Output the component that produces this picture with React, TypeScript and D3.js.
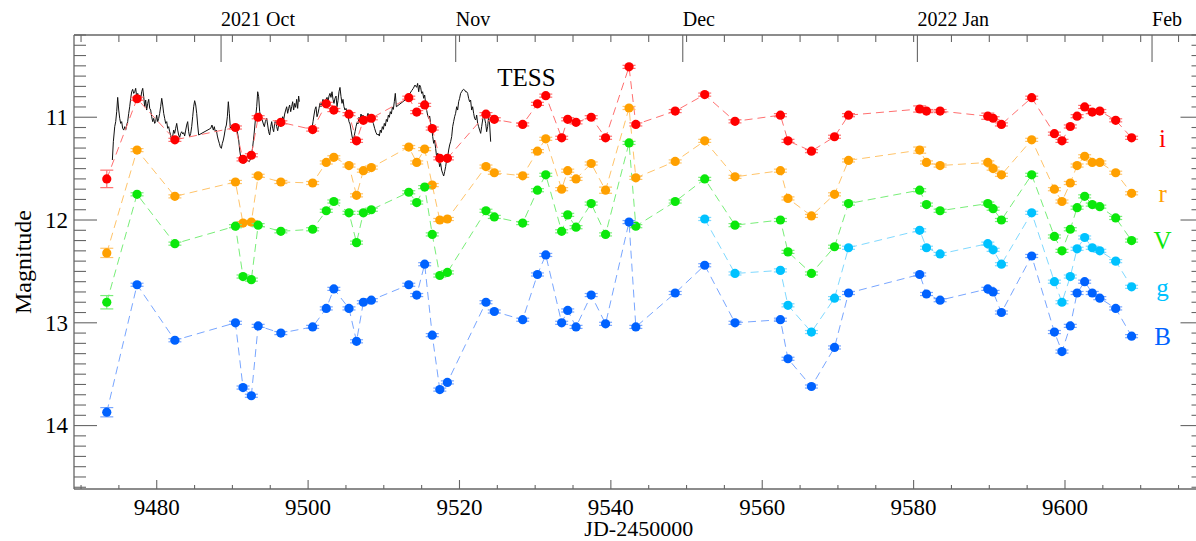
import React from 'react';
import * as d3 from 'd3';

// Nights of ground-based photometry (JD-2450000)
const nightJD = [
  9473.4, 9477.4, 9482.4, 9490.4, 9491.4, 9492.5, 9493.4, 9496.4, 9500.6, 9502.4,
  9503.4, 9505.4, 9506.4, 9507.3, 9508.35, 9513.3, 9514.35, 9515.4, 9516.4, 9517.4,
  9518.4, 9523.5, 9524.6, 9528.35, 9530.3, 9531.4, 9533.5, 9534.3, 9535.4, 9537.4,
  9539.3, 9542.4, 9543.3, 9548.5, 9552.4, 9556.4, 9562.4, 9563.4, 9566.5, 9569.55,
  9571.4, 9580.8, 9581.7, 9583.5, 9589.8, 9590.5, 9591.6, 9595.6, 9598.6, 9599.6,
  9600.7, 9601.6, 9602.6, 9603.6, 9604.6, 9606.7, 9608.8,
];

const magI = [
  11.60, 10.82, 11.22, 11.10, 11.41, 11.37, 11.00, 11.05, 11.12, 10.87,
  10.93, 10.97, 11.23, 11.03, 11.01, 10.81, 10.95, 10.88, 11.11, 11.40,
  11.40, 10.97, 11.02, 11.07, 10.87, 10.79, 11.20, 11.02, 11.05, 11.00,
  11.20, 10.51, 11.07, 10.94, 10.78, 11.04, 10.98, 11.23, 11.33, 11.19,
  10.98, 10.92, 10.94, 10.94, 10.99, 11.01, 11.07, 10.81, 11.16, 11.23,
  11.09, 10.99, 10.90, 10.95, 10.94, 11.03, 11.20,
];

const magR = [
  12.32, 11.32, 11.77, 11.63, 12.03, 12.02, 11.57, 11.63, 11.64, 11.44,
  11.39, 11.47, 11.76, 11.52, 11.49, 11.29, 11.44, 11.31, 11.66, 12.00,
  11.99, 11.48, 11.54, 11.57, 11.33, 11.21, 11.70, 11.52, 11.60, 11.45,
  11.71, 10.91, 11.59, 11.43, 11.23, 11.58, 11.52, 11.79, 11.96, 11.75,
  11.42, 11.32, 11.44, 11.47, 11.44, 11.50, 11.56, 11.22, 11.70, 11.82,
  11.64, 11.47, 11.38, 11.44, 11.44, 11.54, 11.74,
];

const magV = [
  12.80, 11.75, 12.23, 12.06, 12.55, 12.58, 12.05, 12.11, 12.09, 11.91,
  11.82, 11.93, 12.22, 11.93, 11.90, 11.73, 11.83, 11.68, 12.14, 12.54,
  12.51, 11.91, 11.97, 12.03, 11.71, 11.56, 12.11, 11.95, 12.07, 11.84,
  12.14, 11.25, 12.06, 11.82, 11.60, 12.05, 12.00, 12.31, 12.52, 12.26,
  11.84, 11.71, 11.85, 11.91, 11.84, 11.89, 12.00, 11.56, 12.16, 12.30,
  12.09, 11.88, 11.77, 11.85, 11.87, 11.98, 12.20,
];

// g starts with the 35th night
const gFirstNight = 34;
const magG = [
  11.99, 12.52, 12.49, 12.83, 13.09, 12.76, 12.27, 12.10, 12.27, 12.33,
  12.23, 12.29, 12.43, 11.93, 12.60, 12.80, 12.55, 12.28, 12.17, 12.27,
  12.30, 12.40, 12.65,
];

const magB = [
  13.87, 12.63, 13.17, 13.00, 13.63, 13.71, 13.03, 13.10, 13.04, 12.86,
  12.67, 12.86, 13.18, 12.80, 12.78, 12.63, 12.73, 12.43, 13.12, 13.65,
  13.58, 12.80, 12.89, 12.97, 12.53, 12.34, 13.00, 12.88, 13.04, 12.73,
  13.01, 12.02, 13.04, 12.71, 12.44, 13.00, 12.97, 13.35, 13.62, 13.24,
  12.71, 12.53, 12.72, 12.78, 12.67, 12.70, 12.90, 12.35, 13.09, 13.28,
  13.03, 12.71, 12.60, 12.71, 12.76, 12.86, 13.13,
];

// Photometric uncertainties: a typical value and the larger ones
const typicalErr = 0.015;
const largeErrors: [string, number, number][] = [
  ['i', 9473.4, 0.085],
  ['r', 9473.4, 0.045],
  ['V', 9473.4, 0.065],
  ['B', 9473.4, 0.045],
  ['i', 9580.8, 0.03],
  ['i', 9589.8, 0.03],
  ['r', 9539.3, 0.03],
  ['r', 9580.8, 0.03],
];

const bandNames = ['i', 'r', 'V', 'g', 'B'];
const bandDotColors = ['#ff0000', '#ffa000', '#0be80b', '#00c2ff', '#0062ff'];
const bandLineColors = ['#ff6f6f', '#ffc46a', '#78ee78', '#7fd9ff', '#78a6ff'];

// TESS light curve, scaled to magnitudes: [JD-2450000, mag]
const tessSegment1: [number, number][] = [
  [9474.14, 11.416], [9474.27, 11.238], [9474.45, 11.092], [9474.58, 11.043], [9474.71, 10.946],
  [9474.84, 10.807], [9474.98, 10.930], [9475.11, 11.011], [9475.24, 11.060], [9475.37, 11.043],
  [9475.50, 11.108], [9475.64, 11.125], [9475.77, 11.092], [9475.90, 11.125], [9476.03, 11.076],
  [9476.16, 11.043], [9476.30, 10.962], [9476.43, 10.898], [9476.56, 10.816], [9476.69, 10.752],
  [9476.82, 10.729], [9476.96, 10.768], [9477.09, 10.752], [9477.22, 10.719], [9477.35, 10.800],
  [9477.49, 10.768], [9477.62, 10.833], [9477.75, 10.784], [9477.88, 10.826], [9478.01, 10.752],
  [9478.15, 10.719], [9478.28, 10.800], [9478.41, 10.898], [9478.54, 10.833], [9478.67, 10.930],
  [9478.81, 10.865], [9478.94, 10.826], [9479.07, 10.914], [9479.20, 10.930], [9479.33, 10.995],
  [9479.47, 11.043], [9479.60, 11.011], [9479.73, 11.060], [9479.86, 11.043], [9479.99, 10.979],
  [9480.13, 11.043], [9480.26, 11.011], [9480.39, 10.962], [9480.52, 10.898], [9480.66, 10.816],
  [9480.79, 10.881], [9480.92, 10.962], [9481.05, 11.011], [9481.18, 11.060], [9481.32, 11.043],
  [9481.45, 11.108], [9481.58, 11.092], [9481.71, 11.141], [9481.84, 11.173], [9481.98, 11.238],
  [9482.11, 11.183], [9482.24, 11.125], [9482.37, 11.157], [9482.50, 11.108], [9482.64, 11.060],
  [9482.77, 11.125], [9482.90, 11.173], [9483.03, 11.196], [9483.17, 11.157], [9483.30, 11.141],
  [9483.43, 11.163], [9483.56, 11.150], [9483.69, 11.183], [9483.83, 11.125], [9483.96, 11.076],
  [9484.09, 11.043], [9484.22, 11.141], [9484.35, 11.189], [9484.49, 11.157], [9484.62, 11.092],
  [9484.75, 10.995], [9484.88, 10.898], [9485.01, 10.839], [9485.15, 10.881], [9485.28, 10.962],
  [9485.41, 11.076], [9485.54, 11.173],
  [9487.13, 11.108], [9487.30, 11.076], [9487.48, 11.125], [9487.61, 11.092], [9487.74, 11.141],
  [9487.88, 11.125], [9488.01, 11.183], [9488.14, 11.222], [9488.27, 11.254], [9488.41, 11.293],
  [9488.54, 11.303], [9488.67, 11.254], [9488.80, 11.222], [9488.93, 11.173], [9489.07, 11.108],
  [9489.20, 11.076], [9489.33, 10.995], [9489.46, 10.849], [9489.59, 10.962], [9489.73, 11.108],
  [9489.86, 11.076], [9490.03, 11.125], [9490.21, 11.092], [9490.43, 11.108], [9490.65, 11.141],
  [9490.83, 11.222], [9490.96, 11.319], [9491.09, 11.384], [9491.22, 11.416], [9491.53, 11.449],
  [9491.88, 11.416], [9492.24, 11.432], [9492.50, 11.384], [9492.68, 11.287], [9492.85, 11.173],
  [9493.03, 11.027], [9493.21, 10.898], [9493.34, 10.752], [9493.47, 10.800], [9493.60, 10.946],
  [9493.73, 10.995], [9493.91, 11.021], [9494.09, 11.066], [9494.22, 11.092], [9494.35, 11.043],
  [9494.53, 11.011], [9494.66, 11.076], [9494.79, 11.141], [9494.92, 11.173], [9495.06, 11.092],
  [9495.19, 11.043], [9495.32, 11.108], [9495.45, 11.141], [9495.58, 11.060], [9495.72, 11.027],
  [9495.85, 11.092], [9495.98, 11.131], [9496.11, 11.076], [9496.24, 11.043], [9496.38, 11.092],
  [9496.51, 11.053], [9496.64, 10.995], [9496.77, 11.027], [9496.90, 10.969], [9497.04, 10.930],
  [9497.17, 10.898], [9497.30, 10.962], [9497.43, 10.914], [9497.56, 10.881], [9497.70, 10.946],
  [9497.83, 10.898], [9497.96, 10.849], [9498.09, 10.930], [9498.23, 10.865], [9498.36, 10.904],
  [9498.49, 10.826], [9498.62, 10.914], [9498.75, 10.794], [9498.84, 10.849],
];

const tessSegment2: [number, number][] = [
  [9500.52, 11.108], [9500.65, 11.043], [9500.78, 10.979], [9500.91, 10.924], [9501.04, 10.898],
  [9501.18, 10.995], [9501.31, 10.962], [9501.44, 10.914], [9501.57, 10.865], [9501.70, 10.898],
  [9501.84, 10.859], [9501.97, 10.826], [9502.10, 10.865], [9502.23, 10.891], [9502.36, 10.826],
  [9502.50, 10.807], [9502.63, 10.849], [9502.76, 10.794], [9502.89, 10.768], [9503.02, 10.807],
  [9503.16, 10.752], [9503.29, 10.826], [9503.42, 10.865], [9503.55, 10.816], [9503.69, 10.794],
  [9503.82, 10.898], [9503.95, 10.839], [9504.08, 10.752], [9504.21, 10.710], [9504.35, 10.800],
  [9504.48, 10.865], [9504.61, 10.826], [9504.74, 10.898], [9504.87, 10.930], [9505.01, 10.914],
  [9505.14, 10.956], [9505.27, 10.979], [9505.40, 11.043], [9505.54, 11.066], [9505.67, 11.125],
  [9505.80, 11.183], [9505.93, 11.222], [9506.06, 11.196], [9506.20, 11.141], [9506.33, 11.092],
  [9506.46, 11.053], [9506.59, 11.066], [9506.72, 11.001], [9506.86, 11.027], [9506.99, 10.969],
  [9507.12, 11.011], [9507.25, 10.979], [9507.38, 11.027], [9507.52, 10.988], [9507.65, 11.043],
  [9507.78, 10.995], [9507.91, 10.962], [9508.09, 11.011], [9508.27, 10.995], [9508.44, 11.027],
  [9508.62, 11.060], [9508.79, 11.108], [9508.97, 11.150], [9509.15, 11.173], [9509.28, 11.163],
  [9509.41, 11.183], [9509.54, 11.125], [9509.67, 11.150], [9509.81, 11.092], [9509.94, 11.118],
  [9510.07, 11.060], [9510.20, 11.086], [9510.34, 11.021], [9510.47, 11.043], [9510.60, 10.979],
  [9510.73, 11.001], [9510.86, 10.946], [9511.00, 10.969], [9511.13, 10.904], [9511.26, 10.924],
  [9511.39, 10.849], [9511.52, 10.768], [9511.66, 10.898],
  [9512.80, 10.833], [9513.02, 10.807], [9513.24, 10.784], [9513.46, 10.768], [9513.68, 10.742],
  [9513.90, 10.719], [9514.12, 10.687], [9514.34, 10.709], [9514.47, 10.671], [9514.61, 10.752],
  [9514.74, 10.687], [9514.87, 10.709], [9515.00, 10.768], [9515.13, 10.752], [9515.27, 10.816],
  [9515.40, 10.784], [9515.53, 10.865], [9515.66, 10.930], [9515.79, 10.979], [9515.93, 11.011],
  [9516.06, 10.988], [9516.19, 11.060], [9516.32, 11.092], [9516.46, 11.189], [9516.59, 11.254],
  [9516.72, 11.222], [9516.85, 11.303], [9516.98, 11.384], [9517.12, 11.351], [9517.25, 11.416],
  [9517.38, 11.481], [9517.51, 11.449], [9517.64, 11.514], [9517.78, 11.546], [9517.91, 11.572],
  [9518.04, 11.530], [9518.17, 11.481], [9518.30, 11.416], [9518.44, 11.384], [9518.57, 11.319],
  [9518.70, 11.270], [9518.83, 11.238], [9518.97, 11.189], [9519.10, 11.092], [9519.23, 11.043],
  [9519.36, 10.995], [9519.49, 10.962], [9519.63, 10.898], [9519.76, 10.930], [9519.89, 10.849],
  [9520.02, 10.816], [9520.15, 10.768], [9520.29, 10.752], [9520.42, 10.735], [9520.55, 10.729],
  [9520.68, 10.735], [9520.81, 10.752], [9520.95, 10.752], [9521.08, 10.768], [9521.21, 10.816],
  [9521.34, 10.849], [9521.47, 10.833], [9521.61, 10.930], [9521.74, 10.898], [9521.87, 10.962],
  [9522.00, 11.011], [9522.14, 11.027], [9522.27, 10.979], [9522.40, 11.060], [9522.53, 11.092],
  [9522.66, 11.125], [9522.80, 11.157], [9522.93, 11.092], [9523.06, 11.027], [9523.19, 10.962],
  [9523.32, 11.011], [9523.46, 11.060], [9523.59, 11.141], [9523.72, 11.092], [9523.85, 10.995],
  [9523.99, 11.076], [9524.12, 11.238],
];

const tessLabel = 'TESS';
const tessLabelPos: [number, number] = [9525.0, 10.70];

// Calendar months on the upper axis
const monthLabels = ['2021 Oct', 'Nov', 'Dec', '2022 Jan', 'Feb'];
const monthStartJD = [9488.5, 9519.5, 9549.5, 9580.5, 9611.5];

const xTickLabels = [9480, 9500, 9520, 9540, 9560, 9580, 9600];
const yTickLabels = [11, 12, 13, 14];

const FONT = "'Liberation Serif', 'Times New Roman', serif";
const AXIS = '#666';

export default function App() {
  const W = 1196;
  const H = 541;
  const left = 74;
  const top = 35;
  const bottom = 489;
  const right = 1203.5;

  const x = d3.scaleLinear().domain([9469.07, 9618.3]).range([left, right]);
  const y = d3.scaleLinear().domain([10.2, 14.617]).range([top, bottom]);

  const line = d3
    .line<[number, number]>()
    .x((d) => x(d[0]))
    .y((d) => y(d[1]));

  const bandMags = [magI, magR, magV, magG, magB];
  const bands = bandNames.map((name, k) => {
    const jds = name === 'g' ? nightJD.slice(gFirstNight) : nightJD;
    const mags = bandMags[k];
    const pts = jds.map((jd, j) => {
      const big = largeErrors.find((e) => e[0] === name && e[1] === jd);
      return { jd, mag: mags[j], err: big ? big[2] : typicalErr };
    });
    return { name, pts, dot: bandDotColors[k], light: bandLineColors[k] };
  });

  const minorX = d3.range(9470, 9620, 5);
  const minorY = d3.range(102, 147).map((v) => v / 10);

  return (
    <svg
      width={W}
      height={H}
      style={{ position: 'absolute', left: 0, top: 0, background: '#fff' }}
      fontFamily={FONT}
    >
      <rect width={W} height={H} fill="#fff" />

      {/* frame */}
      <g stroke={AXIS} strokeWidth={1.3} fill="none">
        <line x1={left} y1={top} x2={right} y2={top} />
        <line x1={left} y1={bottom} x2={right} y2={bottom} />
        <line x1={left} y1={top} x2={left} y2={bottom} />
        <line x1={right} y1={top} x2={right} y2={bottom} />
      </g>

      {/* x ticks: bottom (JD) and top (calendar) */}
      <g stroke={AXIS} strokeWidth={1.1}>
        {minorX.map((v) => {
          const major = v % 20 === 0;
          return (
            <g key={'tx' + v}>
              <line x1={x(v)} x2={x(v)} y1={bottom} y2={bottom - (major ? 9 : 4)} />
              <line x1={x(v)} x2={x(v)} y1={top} y2={top + 7} />
            </g>
          );
        })}
        {monthStartJD.map((v) => (
          <line key={'m' + v} x1={x(v)} x2={x(v)} y1={top} y2={top + 27} />
        ))}
      </g>

      {/* y ticks on both sides */}
      <g stroke={AXIS} strokeWidth={1.1}>
        {minorY.map((v) => {
          const major = Math.abs(v - Math.round(v)) < 1e-6;
          const len = major ? 23 : 12;
          return (
            <g key={'ty' + v}>
              <line x1={left} x2={left + len} y1={y(v)} y2={y(v)} />
              <line x1={right} x2={right - len} y1={y(v)} y2={y(v)} />
            </g>
          );
        })}
      </g>

      {/* tick labels */}
      <g fontSize={23} fill="#000">
        {xTickLabels.map((v) => (
          <text key={'lx' + v} x={x(v)} y={515} textAnchor="middle">
            {v}
          </text>
        ))}
        {yTickLabels.map((v) => (
          <text key={'ly' + v} x={68} y={y(v)} dy="0.34em" textAnchor="end">
            {v}
          </text>
        ))}
      </g>
      <g fontSize={20} fill="#000">
        {monthLabels.map((m, k) => (
          <text key={m} x={x(monthStartJD[k])} y={26} textAnchor="start">
            {m}
          </text>
        ))}
      </g>

      {/* axis titles */}
      <text x={(left + right) / 2} y={536} textAnchor="middle" fontSize={22} fill="#000">
        JD-2450000
      </text>
      <text
        transform={`translate(31, ${(top + bottom) / 2}) rotate(-90)`}
        textAnchor="middle"
        fontSize={24}
        fill="#000"
      >
        Magnitude
      </text>

      {/* TESS light curve */}
      <g fill="none" stroke="#111" strokeWidth={1}>
        <path d={line(tessSegment1) || ''} />
        <path d={line(tessSegment2) || ''} />
      </g>
      <text
        x={x(tessLabelPos[0])}
        y={y(tessLabelPos[1])}
        fontSize={25}
        fill="#000"
        textAnchor="start"
      >
        {tessLabel}
      </text>

      {/* dashed connecting lines */}
      {bands.map((b) => (
        <path
          key={'ln' + b.name}
          d={line(b.pts.map((p) => [p.jd, p.mag] as [number, number])) || ''}
          fill="none"
          stroke={b.light}
          strokeWidth={1}
          strokeDasharray="8,5"
        />
      ))}

      {/* error bars and points */}
      {bands.map((b) => (
        <g key={'pt' + b.name}>
          {b.pts.map((p) => {
            const cx = x(p.jd);
            const y0 = y(p.mag - p.err);
            const y1 = y(p.mag + p.err);
            return (
              <g key={p.jd} stroke={b.light} strokeWidth={1.2}>
                <line x1={cx} x2={cx} y1={y0} y2={y1} />
                <line x1={cx - 6.5} x2={cx + 6.5} y1={y0} y2={y0} />
                <line x1={cx - 6.5} x2={cx + 6.5} y1={y1} y2={y1} />
              </g>
            );
          })}
          {b.pts.map((p) => (
            <circle key={'c' + p.jd} cx={x(p.jd)} cy={y(p.mag)} r={4.6} fill={b.dot} />
          ))}
        </g>
      ))}

      {/* band names beside the last points */}
      <g fontSize={25} textAnchor="middle">
        {bands.map((b) => {
          const last = b.pts[b.pts.length - 1];
          return (
            <text key={'bn' + b.name} x={x(last.jd) + 31} y={y(last.mag)} dy="0.35em" fill={b.dot}>
              {b.name}
            </text>
          );
        })}
      </g>
    </svg>
  );
}
